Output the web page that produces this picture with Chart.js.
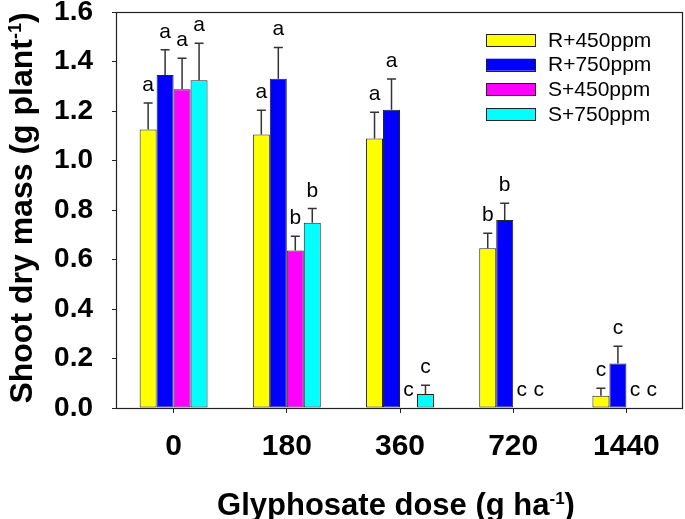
<!DOCTYPE html>
<html><head><meta charset="utf-8">
<script src="https://cdn.jsdelivr.net/npm/chart.js@4"></script>
<style>html,body{margin:0;padding:0;background:#fff;} canvas{display:block;}</style>
</head><body>
<canvas id="c" width="685" height="519"></canvas>
<script>
const doses = ['0', '180', '360', '720', '1440'];
const seriesNames = ['R+450ppm', 'R+750ppm', 'S+450ppm', 'S+750ppm'];
const r450 = [1.125, 1.105, 1.089, 0.645, 0.049];
const r750 = [1.345, 1.330, 1.205, 0.760, 0.180];
const s450 = [1.288, 0.636, 0, 0, 0];
const s750 = [1.324, 0.748, 0.057, 0, 0];
const r450Err = [0.107, 0.098, 0.106, 0.061, 0.031];
const r750Err = [0.102, 0.127, 0.124, 0.067, 0.069];
const s450Err = [0.125, 0.058, 0, 0, 0];
const s750Err = [0.150, 0.058, 0.035, 0, 0];
const r450Letters = ['a', 'a', 'a', 'b', 'c'];
const r750Letters = ['a', 'a', 'a', 'b', 'c'];
const s450Letters = ['a', 'b', 'c', 'c', 'c'];
const s750Letters = ['a', 'b', 'c', 'c', 'c'];
const yTicks = [0, 0.2, 0.4, 0.6, 0.8, 1.0, 1.2, 1.4, 1.6];
const xTitle = ['Glyphosate dose (g ha', '-1', ')'];
const yTitle = ['Shoot dry mass (g plant', '-1', ')'];

const colors = ['#FFFF00', '#0000FF', '#FF00FF', '#00FFFF'];
const values = [r450, r750, s450, s750];
const errs = [r450Err, r750Err, s450Err, s750Err];
const letters = [r450Letters, r750Letters, s450Letters, s750Letters];
const FAM = '"Liberation Sans", Arial, Helvetica, sans-serif';

function drawParts(ctx, parts, cx, baseY, mainSize, supSize, supRise) {
  const fonts = ['bold ' + mainSize + 'px ' + FAM, 'bold ' + supSize + 'px ' + FAM, 'bold ' + mainSize + 'px ' + FAM];
  let widths = parts.map((t, i) => { ctx.font = fonts[i]; return ctx.measureText(t).width; });
  const total = widths.reduce((a, b) => a + b, 0);
  let x = cx - total / 2;
  ctx.textAlign = 'left';
  ctx.textBaseline = 'alphabetic';
  parts.forEach((t, i) => {
    ctx.font = fonts[i];
    ctx.fillText(t, x, i === 1 ? baseY - supRise : baseY);
    x += widths[i];
  });
}

const custom = {
  id: 'custom',
  afterDatasetsDraw(chart) {
    const ctx = chart.ctx;
    const ys = chart.scales.y;
    ctx.save();
    ctx.strokeStyle = '#333';
    ctx.lineWidth = 1.5;
    chart.data.datasets.forEach((ds, i) => {
      const meta = chart.getDatasetMeta(i);
      meta.data.forEach((bar, j) => {
        const v = ds.data[j], e = errs[i][j];
        if (!e) return;
        const x = bar.x;
        const y0 = ys.getPixelForValue(v), y1 = ys.getPixelForValue(v + e);
        ctx.beginPath();
        ctx.moveTo(x, y0); ctx.lineTo(x, y1);
        ctx.moveTo(x - 4.5, y1); ctx.lineTo(x + 4.5, y1);
        ctx.stroke();
      });
    });
    ctx.fillStyle = '#000';
    ctx.font = '21px ' + FAM;
    ctx.textAlign = 'center';
    ctx.textBaseline = 'alphabetic';
    chart.data.datasets.forEach((ds, i) => {
      const meta = chart.getDatasetMeta(i);
      meta.data.forEach((bar, j) => {
        const top = ys.getPixelForValue(ds.data[j] + errs[i][j]);
        ctx.fillText(letters[i][j], bar.x, top - 12);
      });
    });
    ctx.restore();
  },
  afterDraw(chart) {
    const ctx = chart.ctx;
    const ca = chart.chartArea;
    ctx.save();
    ctx.strokeStyle = '#222';
    ctx.lineWidth = 1.2;
    ctx.strokeRect(Math.round(ca.left) - 0.5, Math.round(ca.top) + 0.5, Math.round(ca.right - ca.left), Math.round(ca.bottom - ca.top));
    ctx.font = '21px ' + FAM;
    ctx.textAlign = 'left';
    ctx.textBaseline = 'middle';
    chart.data.datasets.forEach((ds, i) => {
      const yc = 40 + i * 24.7;
      ctx.fillStyle = ds.backgroundColor;
      ctx.fillRect(486, yc - 6, 49, 12);
      ctx.strokeStyle = '#222';
      ctx.lineWidth = 1;
      ctx.strokeRect(486.5, Math.round(yc - 6) + 0.5, 49, 12);
      ctx.fillStyle = '#000';
      ctx.fillText(ds.label, 548, yc + 1);
    });
    ctx.fillStyle = '#000';
    drawParts(ctx, xTitle, 396, 515, 31, 17, 11);
    ctx.translate(32, 208);
    ctx.rotate(-Math.PI / 2);
    drawParts(ctx, yTitle, 0, 0, 32, 18, 11);
    ctx.restore();
  }
};

new Chart(document.getElementById('c'), {
  type: 'bar',
  data: {
    labels: doses,
    datasets: seriesNames.map((name, i) => ({
      label: name,
      data: values[i],
      backgroundColor: colors[i],
      borderColor: '#222',
      borderWidth: 1,
      borderSkipped: false,
      categoryPercentage: 0.6,
      barPercentage: 1.0
    }))
  },
  options: {
    responsive: false,
    animation: false,
    devicePixelRatio: 1,
    layout: { padding: { top: 12, right: 2, left: 0, bottom: 0 } },
    plugins: { legend: { display: false }, tooltip: { enabled: false } },
    scales: {
      x: {
        offset: true,
        grid: { offset: false, drawOnChartArea: false, drawTicks: true, tickLength: 5, color: '#222', tickWidth: 1 },
        border: { display: false },
        ticks: { color: '#000', padding: 16, font: { family: FAM, size: 30, weight: 'bold' }, maxRotation: 0 },
        afterFit(s) { s.height = 111; s.paddingLeft = 0; s.paddingRight = 0; }
      },
      y: {
        min: 0, max: 1.6,
        grid: { drawOnChartArea: false, drawTicks: true, tickLength: 5, color: '#222', tickWidth: 1 },
        border: { display: false },
        ticks: { color: '#000', padding: 19, font: { family: FAM, size: 28, weight: 'bold' }, callback: v => Number(v).toFixed(1) },
        afterBuildTicks(s) { s.ticks = yTicks.map(v => ({ value: v })); },
        afterFit(s) { s.width = 117; s.paddingTop = 0; s.paddingBottom = 0; }
      }
    }
  },
  plugins: [custom]
});
</script>
</body></html>
